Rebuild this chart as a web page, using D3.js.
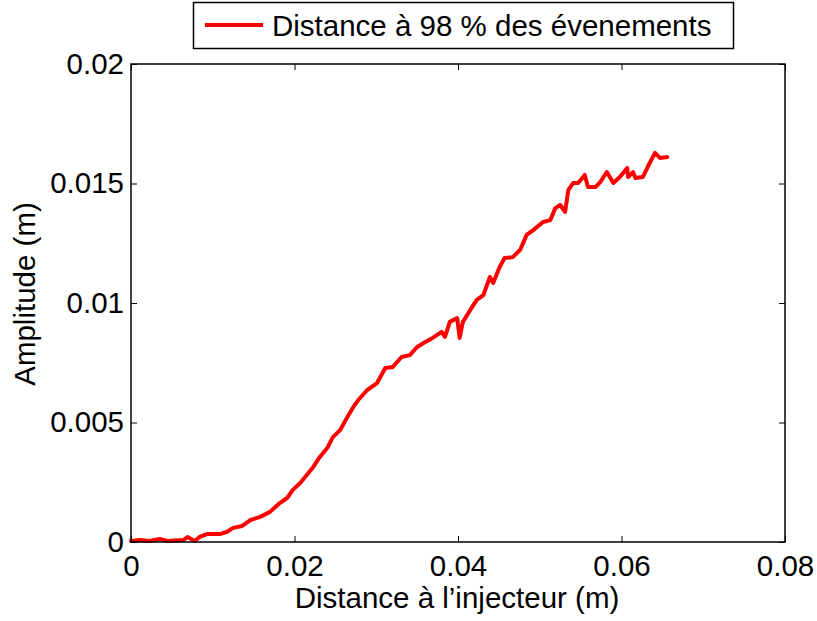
<!DOCTYPE html>
<html>
<head>
<meta charset="utf-8">
<script src="https://cdn.jsdelivr.net/npm/d3@7"></script>
<style>
  html, body { margin: 0; padding: 0; background: #fff; }
  svg { display: block; }
  text { font-family: "Liberation Sans", Arial, Helvetica, sans-serif; fill: #000; }
</style>
</head>
<body>
<svg id="chart" width="817" height="621"></svg>
<script>
// Distance from the injector (m)
const distance = [
  0, 0.0011, 0.0023, 0.0035, 0.0044, 0.0064, 0.0069, 0.0078, 0.0084, 0.0093,
  0.0109, 0.0117, 0.0125, 0.0136, 0.0146, 0.0158, 0.0170, 0.0182, 0.0191, 0.0198,
  0.0207, 0.0215, 0.0223, 0.0231, 0.0240, 0.0247, 0.0256, 0.0264, 0.0272, 0.0278,
  0.0289, 0.0301, 0.0311, 0.0320, 0.0331, 0.0341, 0.0350, 0.0360, 0.0369, 0.0380,
  0.0384, 0.0390, 0.0399, 0.0402, 0.0406, 0.0415, 0.0423, 0.0431, 0.0439, 0.0443,
  0.0451, 0.0457, 0.0467, 0.0476, 0.0484, 0.0492, 0.0504, 0.0513, 0.0519, 0.0525,
  0.0531, 0.0535, 0.0541, 0.0547, 0.0555, 0.0559, 0.0568, 0.0574, 0.0582, 0.0590,
  0.0598, 0.0607, 0.0608, 0.0614, 0.0617, 0.0626, 0.0632, 0.0641, 0.0647, 0.0656
];

// Amplitude reached by 98 % of the events (m)
const amplitude = [
  0.00004, 0.00008, 0.00004, 0.00013, 0.00004, 0.00008, 0.00021, 0.00004, 0.00021, 0.00033,
  0.00033, 0.00042, 0.00059, 0.00067, 0.00092, 0.00105, 0.00126, 0.00163, 0.00184, 0.00218,
  0.00247, 0.00280, 0.00314, 0.00356, 0.00393, 0.00439, 0.00469, 0.00519, 0.00565, 0.00594,
  0.00636, 0.00665, 0.00728, 0.00732, 0.00774, 0.00782, 0.00816, 0.00837, 0.00854, 0.00879,
  0.00858, 0.00921, 0.00937, 0.00854, 0.00921, 0.00971, 0.01013, 0.01033, 0.01109, 0.01084,
  0.01151, 0.01188, 0.01192, 0.01222, 0.01285, 0.01305, 0.01339, 0.01347, 0.01397, 0.01410,
  0.01381, 0.01473, 0.01502, 0.01502, 0.01536, 0.01485, 0.01485, 0.01506, 0.01548, 0.01502,
  0.01527, 0.01565, 0.01527, 0.01548, 0.01523, 0.01527, 0.01569, 0.01628, 0.01607, 0.01611
];

const xTicks = [0, 0.02, 0.04, 0.06, 0.08];
const xTickLabels = ["0", "0.02", "0.04", "0.06", "0.08"];
const yTicks = [0, 0.005, 0.01, 0.015, 0.02];
const yTickLabels = ["0", "0.005", "0.01", "0.015", "0.02"];

const seriesName = "Distance à 98 % des évenements";
const xTitle = "Distance à l’injecteur (m)";
const yTitle = "Amplitude (m)";

const svg = d3.select("#chart");
const plot = { left: 131, right: 785, top: 64, bottom: 542 };

const x = d3.scaleLinear().domain([0, 0.08]).range([plot.left, plot.right]);
const y = d3.scaleLinear().domain([0, 0.02]).range([plot.bottom, plot.top]);

const fontSize = 29.5;
const tickLen = 6;

// Data curve
const points = distance.map((d, i) => [d, amplitude[i]]);
const line = d3.line().x(d => x(d[0])).y(d => y(d[1]));
svg.append("path")
  .datum(points)
  .attr("d", line)
  .attr("fill", "none")
  .attr("stroke", "#ff0000")
  .attr("stroke-width", 4)
  .attr("stroke-linejoin", "round")
  .attr("stroke-linecap", "round");

// Axes: ticks point inward, mirrored on top and right
const fmtX = (d, i) => xTickLabels[i];
const fmtY = (d, i) => yTickLabels[i];

const axB = svg.append("g").attr("transform", `translate(0,${plot.bottom})`)
  .call(d3.axisBottom(x).tickValues(xTicks).tickFormat(fmtX).tickSizeInner(-tickLen).tickSizeOuter(0).tickPadding(13));
const axT = svg.append("g").attr("transform", `translate(0,${plot.top})`)
  .call(d3.axisTop(x).tickValues(xTicks).tickFormat("").tickSizeInner(-tickLen).tickSizeOuter(0));
const axL = svg.append("g").attr("transform", `translate(${plot.left},0)`)
  .call(d3.axisLeft(y).tickValues(yTicks).tickFormat(fmtY).tickSizeInner(-tickLen).tickSizeOuter(0).tickPadding(7));
const axR = svg.append("g").attr("transform", `translate(${plot.right},0)`)
  .call(d3.axisRight(y).tickValues(yTicks).tickFormat("").tickSizeInner(-tickLen).tickSizeOuter(0));

[axB, axT, axL, axR].forEach(g => {
  g.select(".domain").remove();
  g.selectAll("line").attr("stroke", "#000").attr("stroke-width", 1);
  g.selectAll("text")
    .style("font-family", '"Liberation Sans", Arial, sans-serif')
    .style("font-size", fontSize + "px")
    .attr("fill", "#000");
});

// Box frame
svg.append("rect")
  .attr("x", plot.left).attr("y", plot.top)
  .attr("width", plot.right - plot.left).attr("height", plot.bottom - plot.top)
  .attr("fill", "none").attr("stroke", "#000").attr("stroke-width", 1.5);

// Axis titles
svg.append("text")
  .attr("x", 457)
  .attr("y", 608)
  .attr("text-anchor", "middle")
  .style("font-size", fontSize + "px")
  .text(xTitle);

svg.append("text")
  .attr("transform", `translate(35,${294}) rotate(-90)`)
  .attr("text-anchor", "middle")
  .style("font-size", fontSize + "px")
  .text(yTitle);

// Legend
const legend = svg.append("g");
legend.append("rect")
  .attr("x", 193.5).attr("y", 2.5).attr("width", 540).attr("height", 46)
  .attr("fill", "#fff").attr("stroke", "#000").attr("stroke-width", 1.5);
legend.append("line")
  .attr("x1", 205).attr("x2", 263).attr("y1", 25).attr("y2", 25)
  .attr("stroke", "#ff0000").attr("stroke-width", 4);
legend.append("text")
  .attr("x", 272).attr("y", 35.5)
  .style("font-size", fontSize + "px")
  .text(seriesName);
</script>
</body>
</html>
